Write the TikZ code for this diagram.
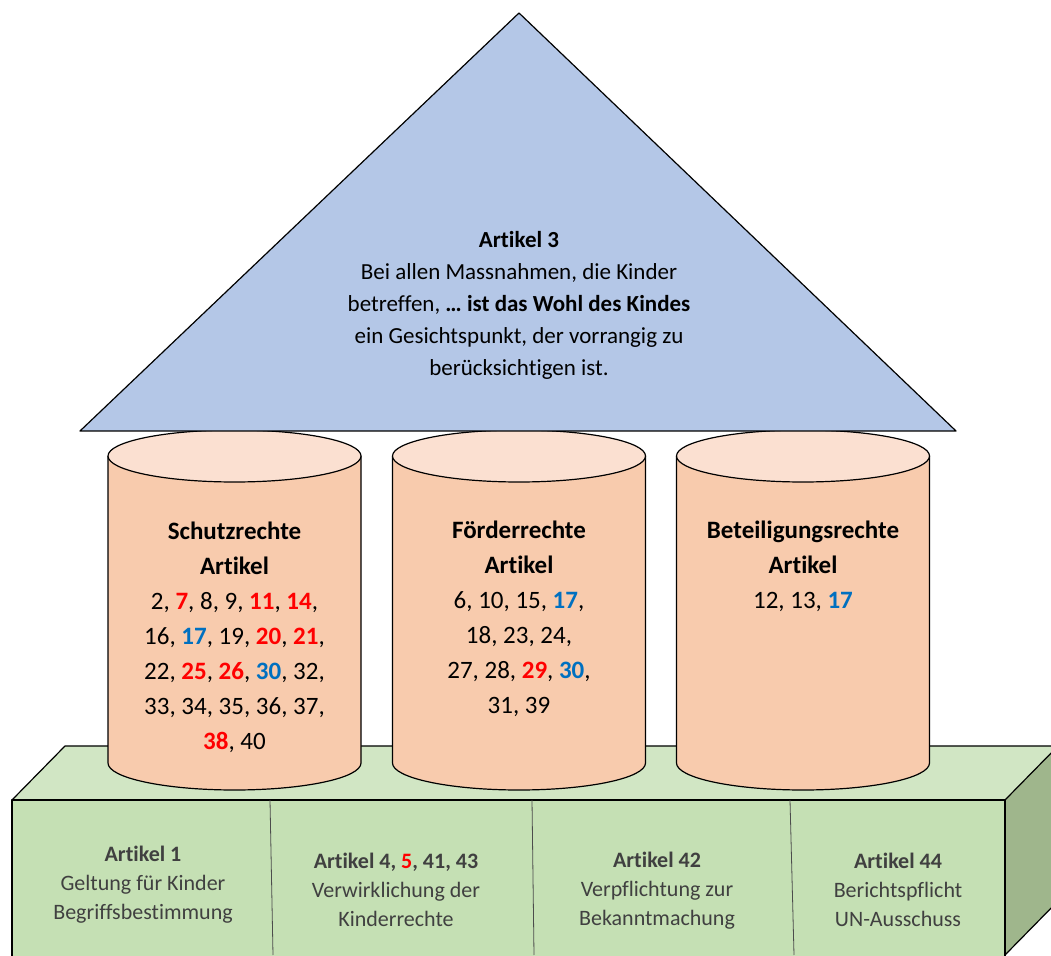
\documentclass[tikz,border=0pt]{standalone}
\usepackage{fontspec}
\setmainfont{Carlito}[Ligatures=NoCommon]
\definecolor{roofblue}{HTML}{B4C7E7}
\definecolor{pillarbody}{HTML}{F8CBAD}
\definecolor{pillartop}{HTML}{FBE0D1}
\definecolor{basefront}{HTML}{C5E0B4}
\definecolor{basetop}{HTML}{D1E6C4}
\definecolor{baseside}{HTML}{9FB68C}
\definecolor{basegray}{HTML}{404040}
\definecolor{artred}{HTML}{FF0000}
\definecolor{artblue}{HTML}{0070C0}
\newcommand{\rednr}[1]{\textbf{\textcolor{artred}{#1}}}
\newcommand{\bluenr}[1]{\textbf{\textcolor{artblue}{#1}}}
\begin{document}
\begin{tikzpicture}[
			x=1pt, y=1pt,
			outline/.style={draw=black, line width=1.2pt, line join=round},
			divider/.style={draw=black!70, line width=0.8pt},
			rtext/.style={align=center, font=\fontsize{23}{32}\selectfont},
			ptext/.style={align=center, font=\fontsize{25}{35}\selectfont},
			btext/.style={align=center, text=basegray, font=\fontsize{22}{29}\selectfont},
		]
		\useasboundingbox (0, 0) rectangle (1051, 955);
		\clip (0, 0) rectangle (1051, 955);

		% base block
		\fill[basetop] (12, 155) -- (65, 209) -- (1058, 209) -- (1005, 155) -- cycle;
		\draw[outline] (12, 155) -- (65, 209) -- (1058, 209);
		\draw[outline, fill=baseside] (1005, 155) -- (1058, 209) -- (1058, 54) -- (1005, 0) -- cycle;
		\draw[outline, fill=basefront] (12, -2) rectangle (1005, 155);
		\draw[divider] (270, 155) -- (273, 0);
		\draw[divider] (532, 155) -- (534, 0);
		\draw[divider] (790, 155) -- (794, 0);

		\node[btext] (art1) at (143, 70) {\textbf{Artikel 1}\\ Geltung für Kinder\\ Begriffsbestimmung};
		\node[btext] (art4) at (396, 65) {\textbf{Artikel 4, \textcolor{artred}{5}, 41, 43}\\ Verwirklichung der\\ Kinderrechte};
		\node[btext] (art42) at (657, 64) {\textbf{Artikel 42}\\ Verpflichtung zur\\ Bekanntmachung};
		\node[btext] (art44) at (898, 65) {\textbf{Artikel 44}\\ Berichtspflicht\\ UN-Ausschuss};

		% pillars
		\foreach \cx in {234.5, 519, 803} {
			\draw[outline, fill=pillarbody] (\cx-126.5, 499) -- (\cx-126.5, 192)
				arc[start angle=180, end angle=360, x radius=126.5, y radius=27] -- (\cx+126.5, 499);
			\draw[outline, fill=pillartop] (\cx, 499) ellipse [x radius=126.5, y radius=26];
		}

		\node[ptext] (schutz) at (234.5, 318) {\textbf{Schutzrechte}\\ \textbf{Artikel}\\
			2, \rednr{7}, 8, 9, \rednr{11}, \rednr{14},\\ 16, \bluenr{17}, 19, \rednr{20}, \rednr{21},\\
			22, \rednr{25}, \rednr{26}, \bluenr{30}, 32,\\ 33, 34, 35, 36, 37,\\ \rednr{38}, 40};
		\node[ptext] (foerder) at (519, 336) {\textbf{Förderrechte}\\ \textbf{Artikel}\\
			6, 10, 15, \bluenr{17},\\ 18, 23, 24,\\ 27, 28, \rednr{29}, \bluenr{30},\\ 31, 39};
		\node[ptext] (beteil) at (803, 389) {\textbf{Beteiligungsrechte}\\ \textbf{Artikel}\\ 12, 13, \bluenr{17}};

		% roof
		\draw[outline, fill=roofblue] (80, 524) -- (519, 942) -- (956, 524) -- cycle;
		\node[rtext] (art3) at (519, 650) {\textbf{Artikel 3}\\ Bei allen Massnahmen, die Kinder\\
			betreffen, \textbf{… ist das Wohl des Kindes}\\ ein Gesichtspunkt, der vorrangig zu\\ berücksichtigen ist.};
	\end{tikzpicture}
\end{document}
